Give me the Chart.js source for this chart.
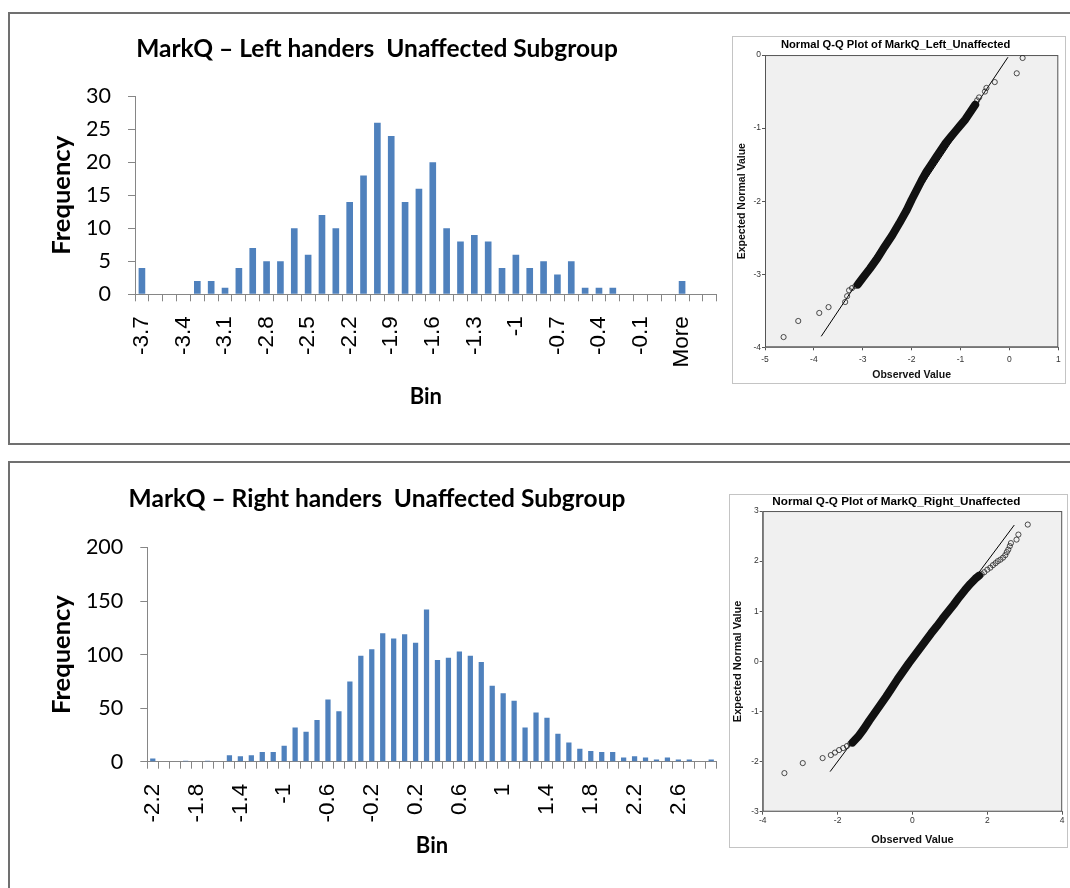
<!DOCTYPE html>
<html>
<head>
<meta charset="utf-8">
<title>MarkQ - histogramas e Q-Q</title>
<script src="https://cdn.jsdelivr.net/npm/chart.js@4.4.0/dist/chart.umd.min.js"></script>
<style>
    html, body { margin: 0; padding: 0; background: #fff; }
    body { width: 1070px; height: 888px; position: relative; overflow: hidden; }
    .moldura { position: absolute; left: 8px; width: 1100px; border: 2px solid #707070; }
    #molduraTopo { top: 12px; height: 429px; }
    #molduraBase { top: 461px; height: 460px; }
    canvas { position: absolute; }
    .caixa-qq { position: absolute; border: 1px solid #c4c4c4; background: #fff; }
</style>
</head>
<body>
<div class="moldura" id="molduraTopo"></div>
<div class="moldura" id="molduraBase"></div>
<canvas id="histEsquerda" width="730" height="420" style="left:0;top:0"></canvas>
<canvas id="histDireita" width="730" height="420" style="left:0;top:450px"></canvas>
<div class="caixa-qq" style="left:732px;top:36px;width:332px;height:346px">
    <canvas id="qqEsquerda" width="332" height="346" style="left:0;top:0"></canvas>
</div>
<div class="caixa-qq" style="left:729px;top:494px;width:337px;height:352px">
    <canvas id="qqDireita" width="337" height="352" style="left:0;top:0"></canvas>
</div>

<script>
// --- Dados ---
const binsEsquerda = ['-3.7', '-3.6', '-3.5', '-3.4', '-3.3', '-3.2', '-3.1', '-3', '-2.9', '-2.8',
    '-2.7', '-2.6', '-2.5', '-2.4', '-2.3', '-2.2', '-2.1', '-2', '-1.9', '-1.8',
    '-1.7', '-1.6', '-1.5', '-1.4', '-1.3', '-1.2', '-1.1', '-1', '-0.9', '-0.8',
    '-0.7', '-0.6', '-0.5', '-0.4', '-0.3', '-0.2', '-0.1', '0', '0.1', 'More', '', ''];
const freqEsquerda = [4, 0, 0, 0, 2, 2, 1, 4, 7, 5,
    5, 10, 6, 12, 10, 14, 18, 26, 24, 14,
    16, 20, 10, 8, 9, 8, 4, 6, 4, 5,
    3, 5, 1, 1, 1, 0, 0, 0, 0, 2, null, null];

const binsDireita = ['-2.2', '-2.1', '-2', '-1.9', '-1.8', '-1.7', '-1.6', '-1.5', '-1.4', '-1.3',
    '-1.2', '-1.1', '-1', '-0.9', '-0.8', '-0.7', '-0.6', '-0.5', '-0.4', '-0.3',
    '-0.2', '-0.1', '0', '0.1', '0.2', '0.3', '0.4', '0.5', '0.6', '0.7',
    '0.8', '0.9', '1', '1.1', '1.2', '1.3', '1.4', '1.5', '1.6', '1.7',
    '1.8', '1.9', '2', '2.1', '2.2', '2.3', '2.4', '2.5', '2.6', '2.7', '2.8', 'More'];
const freqDireita = [3, 0, 0, 1, 0, 1, 0, 6, 5, 6,
    9, 9, 15, 32, 28, 39, 58, 47, 75, 99,
    105, 120, 115, 119, 111, 142, 95, 97, 103, 99,
    93, 71, 64, 57, 32, 46, 41, 26, 18, 12,
    10, 9, 9, 4, 5, 4, 2, 4, 2, 2, 0, 2];

// Q-Q esquerda: [observado, esperado]
const qqEsqPontos = [[-4.62, -3.86], [-4.32, -3.64], [-3.89, -3.53], [-3.70, -3.45], [-3.36, -3.38],
    [-3.32, -3.30], [-3.28, -3.22], [-3.22, -3.19], [-3.15, -3.16],
    [-0.66, -0.62], [-0.62, -0.58], [-0.50, -0.50], [-0.47, -0.45], [-0.30, -0.37],
    [0.15, -0.25], [0.27, -0.04]];
const qqEsqFaixa = [[-3.10, -3.14], [-3.00, -3.05], [-2.85, -2.92], [-2.70, -2.78], [-2.55, -2.62],
    [-2.40, -2.47], [-2.25, -2.30], [-2.10, -2.12], [-2.00, -1.98], [-1.90, -1.85],
    [-1.80, -1.72], [-1.70, -1.60], [-1.60, -1.50], [-1.50, -1.40], [-1.40, -1.30],
    [-1.30, -1.20], [-1.20, -1.12], [-1.10, -1.04], [-1.00, -0.96], [-0.90, -0.88],
    [-0.80, -0.78], [-0.70, -0.68]];
const qqEsqReta = [[-3.85, -3.85], [-0.03, -0.03]];

// Q-Q direita
const qqDirPontos = [[-3.42, -2.23], [-2.93, -2.03], [-2.40, -1.93], [-2.18, -1.87], [-2.07, -1.82],
    [-1.96, -1.77], [-1.85, -1.73], [-1.75, -1.69], [-1.66, -1.64],
    [1.85, 1.74], [1.92, 1.78], [2.00, 1.83], [2.08, 1.87], [2.15, 1.92], [2.22, 1.96],
    [2.28, 2.00], [2.35, 2.03], [2.42, 2.07], [2.48, 2.12], [2.52, 2.18], [2.56, 2.23],
    [2.60, 2.30], [2.63, 2.36], [2.78, 2.43], [2.83, 2.53], [3.08, 2.73]];
const qqDirFaixa = [[-1.60, -1.62], [-1.45, -1.50], [-1.30, -1.35], [-1.15, -1.18], [-1.00, -1.02],
    [-0.85, -0.86], [-0.70, -0.70], [-0.55, -0.53], [-0.40, -0.36], [-0.25, -0.20],
    [-0.10, -0.04], [0.05, 0.11], [0.20, 0.26], [0.35, 0.41], [0.50, 0.56],
    [0.65, 0.70], [0.80, 0.85], [0.95, 0.99], [1.10, 1.13], [1.25, 1.28],
    [1.40, 1.42], [1.55, 1.55], [1.68, 1.65], [1.78, 1.71]];
const qqDirReta = [[-2.20, -2.20], [2.72, 2.72]];

const corBarra = '#4F81BD';
const corEixo = '#868686';

/**
 * Fundo cinza e contorno da área de plotagem (estilo SPSS).
 */
const areaPlot = {
    id: 'areaPlot',
    beforeDatasetsDraw(chart) {
        const { ctx, chartArea: a } = chart;
        ctx.save();
        ctx.fillStyle = '#F0F0F0';
        ctx.fillRect(a.left, a.top, a.width, a.height);
        ctx.strokeStyle = '#555';
        ctx.lineWidth = 1;
        ctx.strokeRect(a.left + 0.5, a.top + 0.5, a.width - 1, a.height - 1);
        ctx.restore();
    }
};

const paraPontos = lista => lista.map(([x, y]) => ({ x, y }));

/**
 * Histograma estilo Excel.
 */
function renderizarHistograma(canvasId, titulo, bins, freq, cfg) {
    return new Chart(document.getElementById(canvasId), {
        type: 'bar',
        data: {
            labels: bins,
            datasets: [{
                data: freq,
                backgroundColor: corBarra,
                barPercentage: 1,
                categoryPercentage: 0.48
            }]
        },
        options: {
            responsive: false,
            animation: false,
            layout: { padding: { left: 37.3, right: 13.3, top: 0, bottom: 0 } },
            plugins: {
                legend: { display: false },
                tooltip: { enabled: false },
                title: {
                    display: true,
                    text: titulo,
                    color: '#000',
                    font: { family: 'Lato', size: 24.5, weight: 'bold' },
                    padding: { top: 34.3, bottom: cfg.tituloBaixo }
                }
            },
            scales: {
                x: {
                    // altura fixa e sem folga extra dos rótulos girados
                    afterFit: s => { s.height = cfg.alturaX; s.paddingLeft = 0; s.paddingRight = 0; },
                    border: { color: corEixo },
                    grid: { drawOnChartArea: false, offset: true, tickLength: 7, color: corEixo },
                    ticks: {
                        autoSkip: false,
                        minRotation: 90,
                        maxRotation: 90,
                        padding: 15,
                        color: '#000',
                        font: { family: 'Liberation Sans', size: 22.5 },
                        callback: (v, i) => (i % cfg.passo === 0 ? bins[i] : '')
                    },
                    title: {
                        display: true,
                        text: 'Bin',
                        color: '#000',
                        font: { family: 'Lato', size: 22, weight: 'bold' },
                        padding: { top: 0, bottom: cfg.binBaixo }
                    }
                },
                y: {
                    min: 0,
                    max: cfg.maxY,
                    afterFit: s => { s.width = cfg.larguraY; },
                    border: { color: corEixo },
                    grid: { drawOnChartArea: false, tickLength: 7, color: corEixo },
                    ticks: {
                        stepSize: cfg.passoY,
                        padding: 17,
                        color: '#000',
                        font: { family: 'Lato', size: 21.5 }
                    },
                    title: {
                        display: true,
                        text: 'Frequency',
                        color: '#000',
                        font: { family: 'Lato', size: 25.5, weight: 'bold' },
                        padding: { top: 9.4, bottom: 0 }
                    }
                }
            }
        }
    });
}

/**
 * Gráfico Q-Q normal estilo SPSS.
 */
function renderizarQQ(canvasId, titulo, faixa, pontos, reta, cfg) {
    const fonteTitulo = { family: 'Liberation Sans', size: cfg.fonteTitulo, weight: 'bold' };
    const fonteEixo = { family: 'Liberation Sans', size: cfg.fonte, weight: 'bold' };
    const fonteTick = { family: 'Liberation Sans', size: 8.5 };
    return new Chart(document.getElementById(canvasId), {
        type: 'scatter',
        data: {
            datasets: [
                {
                    type: 'line',
                    data: paraPontos(faixa),
                    borderColor: '#111',
                    borderWidth: 8,
                    borderCapStyle: 'round',
                    borderJoinStyle: 'round',
                    pointRadius: 0
                },
                {
                    data: paraPontos(pontos.concat(faixa)),
                    pointRadius: 2.6,
                    pointBorderWidth: 0.8,
                    pointBorderColor: '#222',
                    pointBackgroundColor: 'rgba(0,0,0,0)'
                },
                {
                    type: 'line',
                    data: paraPontos(reta),
                    borderColor: '#000',
                    borderWidth: 1,
                    pointRadius: 0
                }
            ]
        },
        options: {
            responsive: false,
            animation: false,
            layout: { padding: { left: 0, right: cfg.dir, top: 0, bottom: 0 } },
            plugins: {
                legend: { display: false },
                tooltip: { enabled: false },
                title: {
                    display: true,
                    text: titulo,
                    color: '#000',
                    font: fonteTitulo,
                    padding: cfg.padTitulo
                }
            },
            scales: {
                x: {
                    type: 'linear',
                    min: cfg.xMin,
                    max: cfg.xMax,
                    afterFit: s => { s.height = cfg.alturaX; },
                    border: { color: '#555' },
                    grid: { drawOnChartArea: false, tickLength: 3, color: '#555' },
                    ticks: { stepSize: cfg.passoX, padding: cfg.padTickX, color: '#333', font: fonteTick },
                    title: { display: true, text: 'Observed Value', color: '#111', font: fonteEixo, padding: { top: 0, bottom: cfg.padTituloX } }
                },
                y: {
                    min: cfg.yMin,
                    max: cfg.yMax,
                    afterFit: s => { s.width = cfg.larguraY; },
                    border: { color: '#555' },
                    grid: { drawOnChartArea: false, tickLength: 3, color: '#555' },
                    ticks: { stepSize: 1, padding: 1, color: '#333', font: fonteTick },
                    title: { display: true, text: 'Expected Normal Value', color: '#111', font: fonteEixo, padding: { top: cfg.padTituloY, bottom: 0 } }
                }
            }
        },
        plugins: [areaPlot]
    });
}

function iniciar() {
    renderizarHistograma('histEsquerda', 'MarkQ \u2013 Left handers  Unaffected Subgroup', binsEsquerda, freqEsquerda,
        { passo: 3, maxY: 30, passoY: 5, larguraY: 97.7, alturaX: 125.7, tituloBaixo: 32.6, binBaixo: 9.8 });
    renderizarHistograma('histDireita', 'MarkQ \u2013 Right handers  Unaffected Subgroup', binsDireita, freqDireita,
        { passo: 4, maxY: 200, passoY: 50, larguraY: 110, alturaX: 108.3, tituloBaixo: 33.8, binBaixo: 10.8 });

    renderizarQQ('qqEsquerda', 'Normal Q-Q Plot of MarkQ_Left_Unaffected', qqEsqFaixa, qqEsqPontos, qqEsqReta,
        { fonteTitulo: 11.2, fonte: 10.5, dir: 6.7, larguraY: 32, alturaX: 35.7, padTitulo: { top: 1.3, bottom: 3.3 },
          xMin: -5, xMax: 1, passoX: 1, yMin: -4, yMax: 0, padTickX: 4, padTituloX: 1.7, padTituloY: 2.4 });
    renderizarQQ('qqDireita', 'Normal Q-Q Plot of MarkQ_Right_Unaffected', qqDirFaixa, qqDirPontos, qqDirReta,
        { fonteTitulo: 11.7, fonte: 11, dir: 4.3, larguraY: 32.7, alturaX: 35.3, padTitulo: { top: 0, bottom: 2 },
          xMin: -4, xMax: 4, passoX: 2, yMin: -3, yMax: 3, padTickX: 1, padTituloX: 0.4, padTituloY: 1.4 });
}

document.addEventListener('DOMContentLoaded', iniciar);
</script>
</body>
</html>
